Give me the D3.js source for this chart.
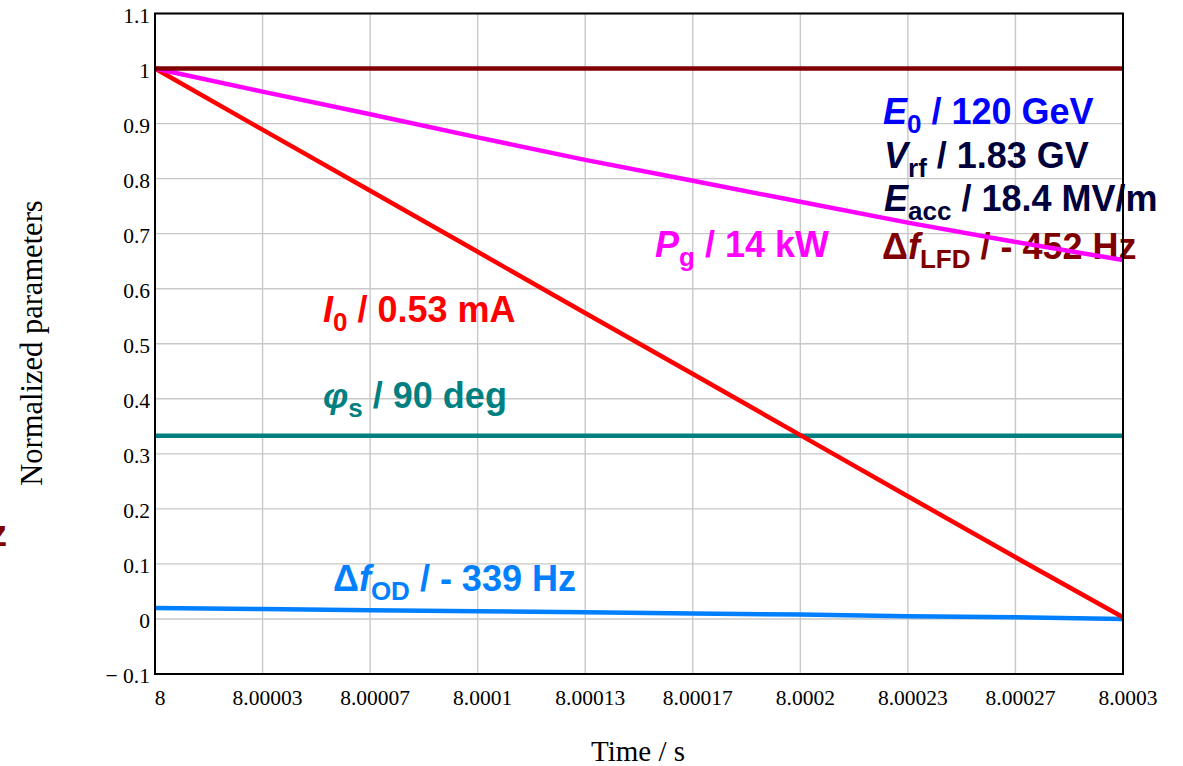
<!DOCTYPE html>
<html>
<head>
<meta charset="utf-8">
<script src="https://cdn.jsdelivr.net/npm/d3@7"></script>
<style>
  body { margin: 0; background: #fff; }
  text { font-family: "Liberation Serif", "Times New Roman", serif; }
  .lbl { font-family: "Liberation Sans", Arial, sans-serif; font-weight: bold; }
</style>
</head>
<body>
<script>
// data, one value per grid time
var timeStart = 8, timeEnd = 8.0003;
var times = [8, 8.0000333, 8.0000667, 8.0001, 8.0001333, 8.0001667, 8.0002, 8.0002333, 8.0002667, 8.0003];
var lfd   = [1, 1, 1, 1, 1, 1, 1, 1, 1, 1];                                         // delta f LFD
var pg    = [1, 0.958, 0.917, 0.875, 0.834, 0.796, 0.758, 0.72, 0.685, 0.652];       // Pg
var i0    = [1, 0.889, 0.778, 0.667, 0.556, 0.445, 0.334, 0.223, 0.112, 0.003];     // I0
var phis  = [0.333, 0.333, 0.333, 0.333, 0.333, 0.333, 0.333, 0.333, 0.333, 0.333];
var fod   = [0.02, 0.018, 0.016, 0.014, 0.012, 0.01, 0.008, 0.005, 0.003, 0.0];

var xTickLabels = ["8", "8.00003", "8.00007", "8.0001", "8.00013", "8.00017", "8.0002", "8.00023", "8.00027", "8.0003"];
var yTicks = [-0.1, 0, 0.1, 0.2, 0.3, 0.4, 0.5, 0.6, 0.7, 0.8, 0.9, 1, 1.1];
var yTickLabels = ["\u2212 0.1", "0", "0.1", "0.2", "0.3", "0.4", "0.5", "0.6", "0.7", "0.8", "0.9", "1", "1.1"];

// series labels: parts [text, style]  (i = italic, s = subscript)
var labels = [
  { color: "#0000ff", x: 883, y: 124, parts: [["E", "i"], ["0", "s"], [" / 120 GeV", ""]] },
  { color: "#00003c", x: 884, y: 168, parts: [["V", "i"], ["rf", "s"], [" / 1.83 GV", ""]] },
  { color: "#00003c", x: 884, y: 211, parts: [["E", "i"], ["acc", "s"], [" / 18.4 MV/m", ""]] },
  { color: "#800000", x: 882, y: 259, parts: [["\u0394", ""], ["f", "i"], ["LFD", "s"], [" / - 452 Hz", ""]] },
  { color: "#ff00ff", x: 655, y: 257, parts: [["P", "i"], ["g", "s"], [" / 14 kW", ""]] },
  { color: "#ff0000", x: 323, y: 322, parts: [["I", "i"], ["0", "s"], [" / 0.53 mA", ""]] },
  { color: "#008080", x: 323, y: 408, parts: [["\u03c6", "i"], ["s", "s"], [" / 90 deg", ""]] },
  { color: "#0080ff", x: 333, y: 591, parts: [["\u0394", ""], ["f", "i"], ["OD", "s"], [" / - 339 Hz", ""]] }
];

var w = 1183, h = 766;
var mLeft = 155, mRight = 1123, mTop = 13.5, mBottom = 674;

var svg = d3.select("body").append("svg")
    .attr("width", w)
    .attr("height", h);

var x = d3.scaleLinear().domain([timeStart, timeEnd]).range([mLeft, mRight]);
var y = d3.scaleLinear().domain([-0.1, 1.1]).range([mBottom, mTop]);

var xTicks = d3.range(xTickLabels.length).map(function(i) {
    return timeStart + i * (timeEnd - timeStart) / (xTickLabels.length - 1);
});

// grid
svg.append("g").selectAll("line").data(xTicks).enter().append("line")
    .attr("x1", function(d) { return x(d); })
    .attr("x2", function(d) { return x(d); })
    .attr("y1", mTop).attr("y2", mBottom)
    .attr("stroke", "#c8c8c8").attr("stroke-width", 1.4);

svg.append("g").selectAll("line").data(yTicks).enter().append("line")
    .attr("x1", mLeft).attr("x2", mRight)
    .attr("y1", function(d) { return y(d); })
    .attr("y2", function(d) { return y(d); })
    .attr("stroke", "#c8c8c8").attr("stroke-width", 1.4);

// tick labels
svg.append("g").selectAll("text").data(yTicks).enter().append("text")
    .attr("x", mLeft - 5)
    .attr("y", function(d) { return y(d) + 9; })
    .attr("text-anchor", "end")
    .style("font-size", "21.5px")
    .text(function(d, i) { return yTickLabels[i]; });

svg.append("g").selectAll("text").data(xTicks).enter().append("text")
    .attr("x", function(d) { return x(d) + 5; })
    .attr("y", mBottom + 31)
    .attr("text-anchor", "middle")
    .style("font-size", "21.5px")
    .text(function(d, i) { return xTickLabels[i]; });

// axis titles
svg.append("text")
    .attr("transform", "translate(42," + 343 + ") rotate(-90)")
    .attr("text-anchor", "middle")
    .style("font-size", "30.5px")
    .text("Normalized parameters");

svg.append("text")
    .attr("x", 638).attr("y", 761)
    .attr("text-anchor", "middle")
    .style("font-size", "29px")
    .text("Time / s");

// cut-off label at the left edge
svg.append("text")
    .attr("class", "lbl")
    .attr("x", 7).attr("y", 546)
    .attr("text-anchor", "end")
    .attr("fill", "#800000")
    .style("font-size", "36px")
    .text("Hz");

// series labels
labels.forEach(function(l) {
    var t = svg.append("text")
        .attr("class", "lbl")
        .attr("x", l.x).attr("y", l.y)
        .attr("fill", l.color)
        .style("font-size", "36px");
    var down = false;
    l.parts.forEach(function(p) {
        var s = t.append("tspan").text(p[0]);
        if (p[1] == "i") s.style("font-style", "italic");
        if (p[1] == "s") {
            s.style("font-size", "26px").attr("dy", 9);
            down = true;
        } else if (down) {
            s.attr("dy", -9);
            down = false;
        }
    });
});

// lines
var line = d3.line()
    .x(function(d) { return x(d[0]); })
    .y(function(d) { return y(d[1]); });

var series = [
    { v: fod, c: "#0080ff" },
    { v: phis, c: "#008080" },
    { v: i0, c: "#ff0000" },
    { v: pg, c: "#ff00ff" },
    { v: lfd, c: "#800000" }
];

series.forEach(function(s) {
    svg.append("path")
        .datum(times.map(function(t, i) { return [t, s.v[i]]; }))
        .attr("d", line)
        .attr("fill", "none")
        .attr("stroke", s.c)
        .attr("stroke-width", 4.5);
});

// frame
svg.append("rect")
    .attr("x", mLeft).attr("y", mTop)
    .attr("width", mRight - mLeft).attr("height", mBottom - mTop)
    .attr("fill", "none")
    .attr("stroke", "#000")
    .attr("stroke-width", 2);
</script>
</body>
</html>
